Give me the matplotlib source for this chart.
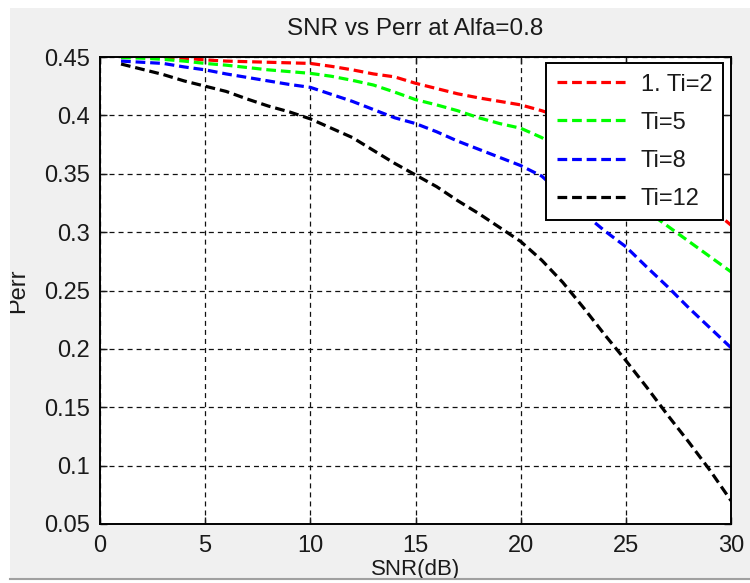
import matplotlib
matplotlib.use("Agg")
import matplotlib.pyplot as plt
from matplotlib.patches import Rectangle
from matplotlib.lines import Line2D

plt.rcParams["font.family"] = ["Liberation Sans", "DejaVu Sans"]
plt.rcParams["lines.scale_dashes"] = False

snr = list(range(1, 31))

perr_ti2 = [0.4505, 0.4502, 0.4495, 0.449, 0.4475, 0.4465, 0.446, 0.4455, 0.445, 0.4445,
            0.442, 0.439, 0.4355, 0.433, 0.4275, 0.423, 0.4185, 0.415, 0.412, 0.409,
            0.404, 0.398, 0.391, 0.382, 0.372, 0.361, 0.349, 0.335, 0.321, 0.306]
perr_ti5 = [0.4495, 0.449, 0.448, 0.4465, 0.4445, 0.443, 0.441, 0.439, 0.4375, 0.436,
            0.4335, 0.430, 0.426, 0.420, 0.4135, 0.409, 0.404, 0.398, 0.393, 0.389,
            0.381, 0.370, 0.357, 0.344, 0.331, 0.318, 0.305, 0.292, 0.279, 0.266]
perr_ti8 = [0.4465, 0.4455, 0.4445, 0.4415, 0.439, 0.4355, 0.4325, 0.4295, 0.4265, 0.424,
            0.418, 0.412, 0.405, 0.398, 0.393, 0.386, 0.378, 0.371, 0.364, 0.357,
            0.348, 0.332, 0.316, 0.301, 0.2875, 0.270, 0.253, 0.235, 0.218, 0.201]
perr_ti12 = [0.444, 0.4395, 0.435, 0.4295, 0.425, 0.4205, 0.414, 0.408, 0.403, 0.397,
             0.389, 0.381, 0.370, 0.359, 0.349, 0.339, 0.327, 0.316, 0.304, 0.292,
             0.276, 0.257, 0.235, 0.212, 0.190, 0.167, 0.143, 0.120, 0.096, 0.070]

series = [
    ("1. Ti=2", perr_ti2, "#ff0000"),
    ("Ti=5", perr_ti5, "#00ff00"),
    ("Ti=8", perr_ti8, "#0000ff"),
    ("Ti=12", perr_ti12, "#000000"),
]

x_ticks = [0, 5, 10, 15, 20, 25, 30]
y_ticks = [0.05, 0.1, 0.15, 0.2, 0.25, 0.3, 0.35, 0.4, 0.45]
y_tick_labels = ["0.05", "0.1", "0.15", "0.2", "0.25", "0.3", "0.35", "0.4", "0.45"]

fig = plt.figure(figsize=(7.5, 5.83), dpi=100, facecolor="#f0f0f0")
ax = fig.add_axes([100 / 750, 59 / 583, 631 / 750, 467 / 583])
ax.set_facecolor("white")

for label, values, color in series:
    ax.plot(snr, values, color=color, linewidth=2.3, linestyle=(0, (7, 3.5)), label=label)

ax.set_xlim(0, 30)
ax.set_ylim(0.05, 0.45)
ax.set_xticks(x_ticks)
ax.set_yticks(y_ticks)
ax.set_yticklabels(y_tick_labels)
ax.tick_params(direction="in", length=5, width=1, top=True, right=True,
               labelsize=17, colors="#1a1a1a")
ax.tick_params(axis="x", pad=8)
ax.tick_params(axis="y", pad=7)
ax.grid(True, color="#111111", linewidth=0.9, linestyle=(0, (3.6, 2.9)))
for spine in ax.spines.values():
    spine.set_linewidth(1.4)
    spine.set_color("black")

ax.set_title("SNR vs Perr at Alfa=0.8", fontsize=17.5, color="#1a1a1a", pad=16)
ax.set_xlabel("SNR(dB)", fontsize=16, color="#1a1a1a", labelpad=1)
ax.set_ylabel("Perr", fontsize=17, color="#1a1a1a")
ax.yaxis.set_label_coords(-0.112, 0.5)

leg = ax.legend(loc="upper right", bbox_to_anchor=(0.987, 0.987), borderaxespad=0,
                fontsize=17, handlelength=3.0, handletextpad=0.55, labelspacing=0.68,
                borderpad=0.45, fancybox=False, framealpha=1, edgecolor="black")
leg.get_frame().set_linewidth(1.4)
for text in leg.get_texts():
    text.set_color("#1a1a1a")

# window border of the screenshot
fig.add_artist(Rectangle((0, 1 - 8 / 583), 1, 8 / 583, transform=fig.transFigure,
                         facecolor="white", edgecolor="none", zorder=10))
fig.add_artist(Rectangle((0, 0), 10 / 750, 1, transform=fig.transFigure,
                         facecolor="white", edgecolor="none", zorder=10))
fig.add_artist(Rectangle((0, 0), 1, 4 / 583, transform=fig.transFigure,
                         facecolor="white", edgecolor="none", zorder=10))
fig.add_artist(Line2D([10 / 750, 1], [4.5 / 583, 4.5 / 583], transform=fig.transFigure,
                      color="#a0a0a0", linewidth=1.5, zorder=11))

fig.savefig("out.png", dpi=100, facecolor=fig.get_facecolor())
plt.close(fig)
